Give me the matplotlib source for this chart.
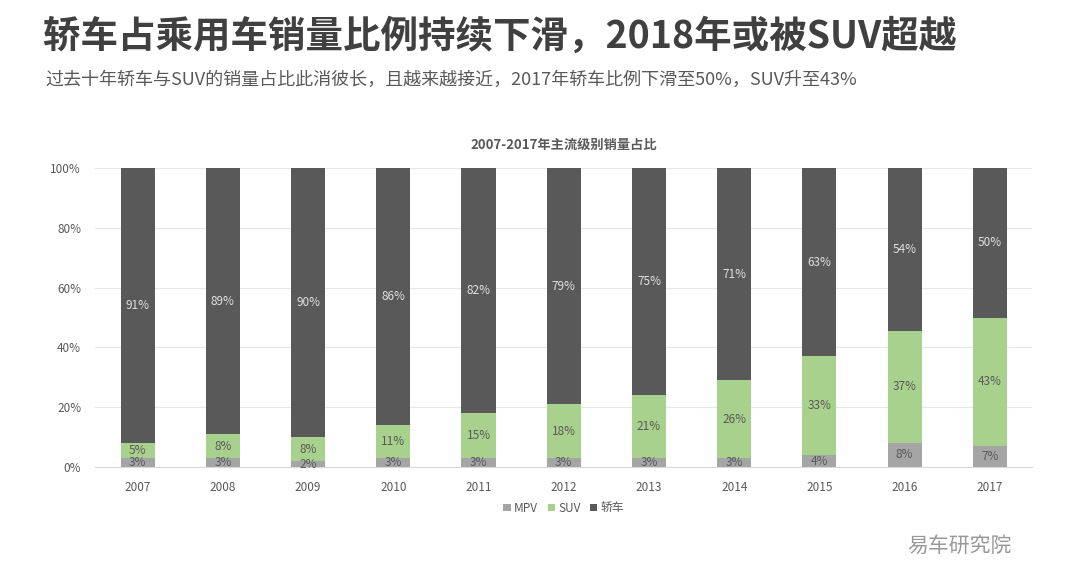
import matplotlib
matplotlib.use("Agg")
import matplotlib.pyplot as plt
from matplotlib import font_manager as fm
import numpy as np

names = sorted({f.name for f in fm.fontManager.ttflist})
cjk = [n for n in names if 'CJK' in n]
cjk_name = 'Noto Sans CJK SC' if 'Noto Sans CJK SC' in cjk else (cjk[0] if cjk else 'DejaVu Sans')
plt.rcParams['font.family'] = [cjk_name, 'DejaVu Sans']

years = ['2007','2008','2009','2010','2011','2012','2013','2014','2015','2016','2017']
mpv = [3,3,2,3,3,3,3,3,4,8,7]
suv = [5,8,8,11,15,18,21,26,33,37,43]
sedan = [91,89,90,86,82,79,75,71,63,54,50]

fig = plt.figure(figsize=(10.8,5.63), dpi=100)
ax = fig.add_axes([0.088,0.1705,0.868,0.531])
x = np.arange(len(years))
tot = np.array(mpv)+np.array(suv)+np.array(sedan)
m = np.array(mpv)/tot*100; s = np.array(suv)/tot*100; d = np.array(sedan)/tot*100
w = 0.4
c_m, c_s, c_d = '#a5a5a5', '#a9d18e', '#595959'
ax.bar(x, m, w, color=c_m, label='MPV')
ax.bar(x, s, w, bottom=m, color=c_s, label='SUV')
ax.bar(x, d, w, bottom=m+s, color=c_d, label='轿车')
for i in range(len(x)):
    ax.text(x[i], m[i]/2, f'{mpv[i]}%', ha='center', va='center', fontsize=8.5, color='#595959')
    ax.text(x[i], m[i]+s[i]/2, f'{suv[i]}%', ha='center', va='center', fontsize=8.5, color='#595959')
    ax.text(x[i], m[i]+s[i]+d[i]/2, f'{sedan[i]}%', ha='center', va='center', fontsize=8.5, color='#e0e0e0')
ax.set_xlim(-0.5,10.5); ax.set_ylim(0,100)
ax.set_xticks(x); ax.set_xticklabels(years, fontsize=8.5, color='#595959')
ax.set_yticks(range(0,101,20)); ax.set_yticklabels([f'{v}%' for v in range(0,101,20)], fontsize=8.5, color='#595959')
ax.yaxis.grid(True, color='#e6e6e6', lw=0.8); ax.set_axisbelow(True)
for sp in ['top','right','left']: ax.spines[sp].set_visible(False)
ax.spines['bottom'].set_color('#d9d9d9')
ax.tick_params(length=0, pad=10)
ax.set_title('2007-2017年主流级别销量占比', fontsize=9.5, fontweight='bold', color='#595959', pad=14)
ax.legend(loc='upper center', bbox_to_anchor=(0.5,-0.08), ncol=3, frameon=False, fontsize=8.5,
          handlelength=0.6, handleheight=0.6, columnspacing=0.8, handletextpad=0.3, labelcolor='#595959')
fig.text(0.04,0.915,'轿车占乘用车销量比例持续下滑，2018年或被SUV超越', fontsize=27, fontweight='bold', color='#404040')
fig.text(0.042,0.85,'过去十年轿车与SUV的销量占比此消彼长，且越来越接近，2017年轿车比例下滑至50%，SUV升至43%', fontsize=13, color='#595959')
fig.text(0.84,0.02,'易车研究院', fontsize=15, color='#999999')
fig.savefig('out.png', dpi=100)
